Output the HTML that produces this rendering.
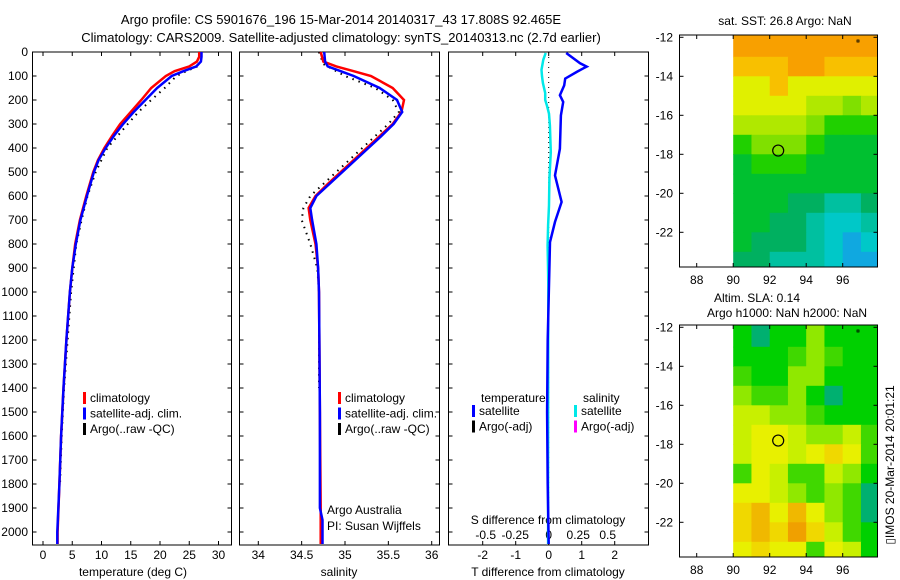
<!DOCTYPE html>
<html><head><meta charset="utf-8">
<style>
body{margin:0;background:#fff;}
svg{display:block;font-family:"Liberation Sans",sans-serif;font-size:12px;}
</style></head>
<body>
<svg id="c" width="900" height="580" viewBox="0 0 900 580">
<text x="341" y="24" text-anchor="middle" font-size="13">Argo profile: CS 5901676_196 15-Mar-2014 20140317_43 17.808S 92.465E</text>
<text x="341" y="42" text-anchor="middle" font-size="13">Climatology: CARS2009. Satellite-adjusted climatology: synTS_20140313.nc (2.7d earlier)</text>
<text x="785" y="25" text-anchor="middle">sat. SST: 26.8 Argo: NaN</text>
<text x="757" y="302" text-anchor="middle">Altim. SLA: 0.14</text>
<text x="787" y="317" text-anchor="middle">Argo h1000: NaN h2000: NaN</text>
<text transform="translate(894,465) rotate(-90)" text-anchor="middle">▯IMOS 20-Mar-2014 20:01:21</text>
<g id="g"></g>
</svg>
<script>
// ---- data ----
const depthT = [0,20,40,60,80,100,150,200,250,300,350,400,450,500,600,700,800,900,1000,1200,1400,1600,1800,2000,2050];
const tempClim = [26.7,26.7,26.3,25,22.5,21,18.5,16.8,15,13.2,11.8,10.5,9.4,8.6,7.4,6.3,5.5,5.0,4.6,4.0,3.5,3.1,2.8,2.5,2.5];
const tempSat  = [27.1,27.1,27.0,26.2,24,22,19.5,17.5,15.5,13.7,12.1,10.7,9.5,8.7,7.5,6.4,5.6,5.0,4.6,4.0,3.5,3.1,2.8,2.45,2.45];
const depthArgoT = [60,80,100,150,200,250,300,400,500,600,700,800,1000,1200,1400,1600,1800];
const tempArgo = [26.4,24.5,22.8,20.8,18.5,16.3,14.5,11,9,7.6,6.6,5.7,4.8,4.2,3.6,3.2,2.9];
const depthS = [0,40,60,80,100,150,200,250,300,350,400,450,500,550,600,650,700,800,900,1000,1500,1900,1950,2050];
const salClim = [34.72,34.75,34.9,35.1,35.3,35.55,35.68,35.65,35.55,35.4,35.25,35.1,34.95,34.8,34.66,34.58,34.6,34.66,34.69,34.7,34.71,34.72,34.72,34.72];
const salSat  = [34.76,34.77,34.8,34.95,35.1,35.4,35.6,35.66,35.56,35.42,35.27,35.12,34.97,34.82,34.67,34.6,34.62,34.67,34.69,34.7,34.71,34.71,34.74,34.74];
const depthArgoS = [0,50,100,150,200,250,300,400,500,600,650,700,800,900,1000,1200,1400];
const salArgo = [34.7,34.75,35.0,35.35,35.55,35.62,35.5,35.2,34.9,34.6,34.52,34.5,34.6,34.68,34.7,34.7,34.7];
const depthD = [4,47,61,68,83,111,139,180,208,264,403,514,625,708,792,900,1200,1500,1800,2050];
const tDiff = [0.53,0.95,1.15,1.05,0.85,0.5,0.47,0.34,0.44,0.37,0.34,0.19,0.39,0.19,0.04,0.02,-0.03,-0.05,-0.03,0.0];
const depthDS = [4,32,74,101,129,171,199,226,257,306,417,528,639,722,806,889,972,1300,1700,2050];
const sDiff = [-0.32,-0.58,-0.78,-0.73,-0.63,-0.38,-0.38,-0.17,0.03,0.13,0.23,0.08,0.03,-0.07,-0.12,-0.08,-0.04,-0.05,-0.06,-0.07];
const depthTicks = [0,100,200,300,400,500,600,700,800,900,1000,1100,1200,1300,1400,1500,1600,1700,1800,1900,2000];
const tempTicks = [0,5,10,15,20,25,30];
const salTicks = [34,34.5,35,35.5,36];
const salTickLabels = ["34","34.5","35","35.5","36"];
const dTTicks = [-2,-1,0,1,2];
const dSTicks = ["-0.5","-0.25","0","0.25","0.5"];
const dSTickVals = [-0.5,-0.25,0,0.25,0.5];
const lonTicks = [88,90,92,94,96];
const latTicks = [-12,-14,-16,-18,-20,-22];
// map grids: rows lat -12..-23 (1 deg), cols lon 90..97 (1 deg), colour index
const sstGrid = [
[10,10,10,10,10,10,10,10],[9,9,9,10,10,9,9,9],[8,8,9,8,8,8,8,8],[8,8,8,8,7,7,6,7],
[7,7,7,7,6,5,5,5],[5,6,6,6,5,4,4,4],[4,5,5,5,4,4,4,4],[4,4,4,4,4,4,4,4],
[4,4,4,3,3,2,2,3],[4,4,3,3,2,1,1,2],[4,3,3,3,2,1,0,1],[3,3,2,2,2,1,0,0]];
const slaGrid = [
[1,0,1,1,3,1,1,1],[1,1,1,2,3,2,1,1],[2,1,1,3,3,1,1,1],[3,2,2,3,1,0,1,1],
[4,4,3,3,2,1,1,1],[4,5,5,4,3,3,4,2],[4,5,5,4,5,6,5,2],[2,5,4,2,2,4,3,1],
[5,5,4,3,2,3,2,0],[6,7,5,7,5,3,2,0],[6,7,6,8,6,4,2,1],[5,6,5,5,2,5,4,1]];
const sstColors = ["#10a8e0","#00c8c8","#00c0a0","#00b060","#00c030","#20d000","#80e000","#b0e800","#e0f000","#f8c000","#f8a000"];
const slaColors = ["#00b070","#00d000","#40d800","#90e800","#c8f000","#e8f000","#f0d800","#f0b800","#f0a000"];

// ---- drawing ----
const NS="http://www.w3.org/2000/svg";
const G=document.getElementById('g');
function el(tag,attrs,parent){const e=document.createElementNS(NS,tag);for(const k in attrs)e.setAttribute(k,attrs[k]);(parent||G).appendChild(e);return e;}
const TOP=52,BOT=545;
const yD=d=>TOP+0.24*d;
const xT=v=>43+5.85*v;
const xS=v=>258.3+86.7*(v-34);
const xDT=v=>548.7+33*v;
const xDS=v=>548.7+118*v;
function line(xs,ds,fx,color,w,dash,name){
  const pts=xs.map((v,i)=>fx(v).toFixed(1)+","+yD(ds[i]).toFixed(1)).join(" ");
  const p=el('polyline',{points:pts,fill:'none',stroke:color,'stroke-width':w});
  if(dash)p.setAttribute('stroke-dasharray',dash);
  
  
}
function panel(x0,x1,name){
  const r=el('rect',{x:x0,y:TOP,width:x1-x0,height:BOT-TOP,fill:'none',stroke:'#000','stroke-width':1});
  
  
  depthTicks.forEach(d=>{el('line',{x1:x0,x2:x0+4,y1:yD(d),y2:yD(d),stroke:'#000'});el('line',{x1:x1-4,x2:x1,y1:yD(d),y2:yD(d),stroke:'#000'});});
}
function text(x,y,s,anchor,name,size){
  const t=el('text',{x:x,y:y,'text-anchor':anchor||'start'});
  if(size)t.setAttribute('font-size',size);
  t.textContent=s;
  
  
  return t;
}
function xticks(vals,fx,x0,x1,labels,name,ly){
  vals.forEach((v,i)=>{const x=fx(v);el('line',{x1:x,x2:x,y1:TOP,y2:TOP+4,stroke:'#000'});el('line',{x1:x,x2:x,y1:BOT-4,y2:BOT,stroke:'#000'});
    text(x,ly||559,labels?labels[i]:String(v),'middle',name);});
}
// Panel 1
panel(32.5,231.5,'temperature-panel');
depthTicks.forEach(d=>text(28,yD(d)+4,String(d),'end','depth-tick-label'));
xticks(tempTicks,xT,32,231,null,'temperature-tick-label');
text(133,576,'temperature (deg C)','middle','temperature-axis-title');
line(tempArgo,depthArgoT,xT,'#000',2,'1.5,5','argo-temperature-line');
line(tempClim,depthT,xT,'#ff0000',2.5,null,'clim-temperature-line');
line(tempSat,depthT,xT,'#0000ff',2.5,null,'sat-temperature-line');
// Panel 2
panel(239.5,439.5,'salinity-panel');
xticks(salTicks,xS,239,439,salTickLabels,'salinity-tick-label');
text(339,576,'salinity','middle','salinity-axis-title');
line(salArgo,depthArgoS,xS,'#000',2,'1.5,5','argo-salinity-line');
line(salClim,depthS,xS,'#ff0000',2.5,null,'clim-salinity-line');
line(salSat,depthS,xS,'#0000ff',2.5,null,'sat-salinity-line');
text(327,514,'Argo Australia','start','argo-australia-label');
text(327,530,'PI: Susan Wijffels','start','pi-label');
// Panel 3
panel(448.5,648.5,'difference-panel');
xticks(dTTicks,xDT,448,648,null,'t-diff-tick-label');
dSTickVals.forEach((v,i)=>text(xDS(v)+ (v<0?-4:0),539,dSTicks[i],'middle','s-diff-tick-label'));
text(548,524,'S difference from climatology','middle','s-diff-axis-title');
text(548,576,'T difference from climatology','middle','t-diff-axis-title');
el('line',{x1:548.7,x2:548.7,y1:TOP,y2:BOT,stroke:'#000','stroke-dasharray':'1,4'});
line(sDiff.map(v=>v/3.576),depthDS,xDT,'#00e8e8',2.5,null,'s-diff-line');
line(tDiff,depthD,xDT,'#0000ff',2.5,null,'t-diff-line');
// legends
function legend(x,y,items,prefix){
  items.forEach((it,i)=>{const yy=y+i*15.5;
    const b=el('rect',{x:x,y:yy-10,width:3,height:12,fill:it[1]});
    
    
    text(x+7,yy,it[0],'start',prefix+'-legend-entry');});
}
legend(83,402,[['climatology','#ff0000'],['satellite-adj. clim.','#0000ff'],['Argo(..raw -QC)','#000']],'temperature');
legend(338,402,[['climatology','#ff0000'],['satellite-adj. clim.','#0000ff'],['Argo(..raw -QC)','#000']],'salinity');
text(481,402,'temperature','start','diff-legend-temperature-header');
text(583,402,'salinity','start','diff-legend-salinity-header');
legend(472,415,[['satellite','#0000ff'],['Argo(-adj)','#000']],'diff-temperature');
legend(574,415,[['satellite','#00e8e8'],['Argo(-adj)','#ff00ff']],'diff-salinity');
// maps
const MX0=679.5,MX1=877.5,lonX=v=>696.7+18.25*(v-88);
function map(top,grid,colors,name){
  const bot=top+232;const latY=v=>top+2.3+19.5*(-12-v);
  grid.forEach((row,r)=>row.forEach((c,k)=>{
    const x0=lonX(90+k),x1=Math.min(lonX(91+k),MX1),y0=Math.max(latY(-12-r)-19.5*0+ (r===0?-2.3:0),top),y1=Math.min(latY(-13-r),bot);
    const cell=el('rect',{x:x0,y:y0,width:x1-x0+0.5,height:y1-y0+0.5,fill:colors[c]});
    
    
  }));
  const fr=el('rect',{x:MX0,y:top,width:MX1-MX0,height:bot-top,fill:'none',stroke:'#000'});
  
  
  lonTicks.forEach(v=>{const x=lonX(v);el('line',{x1:x,x2:x,y1:top,y2:top+4,stroke:'#000'});el('line',{x1:x,x2:x,y1:bot-4,y2:bot,stroke:'#000'});text(x,bot+17,String(v),'middle',name+'-lon-label');});
  latTicks.forEach(v=>{const y=latY(v);el('line',{x1:MX0,x2:MX0+4,y1:y,y2:y,stroke:'#000'});el('line',{x1:MX1-4,x2:MX1,y1:y,y2:y,stroke:'#000'});text(673,y+4,String(v),'end',name+'-lat-label');});
  const c=el('circle',{cx:lonX(92.465),cy:latY(-17.808),r:5.5,fill:'none',stroke:'#000','stroke-width':1.2});
  
  
  el('rect',{x:857,y:top+5,width:2,height:2,fill:'none',stroke:'#000','stroke-width':0.8});
}
map(35,sstGrid,sstColors,'sst-map');
map(325,slaGrid,slaColors,'sla-map');
</script>
</body></html>
